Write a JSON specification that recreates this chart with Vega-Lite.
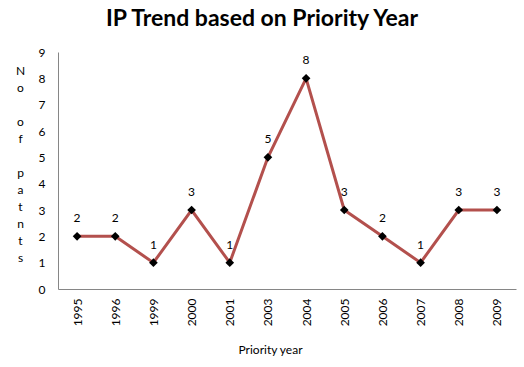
{
  "$schema": "https://vega.github.io/schema/vega-lite/v6.json",
  "width": 458,
  "height": 237,
  "autosize": "none",
  "padding": {"left": 58, "top": 52, "right": 8, "bottom": 78},
  "background": "white",
  "config": {
    "font": "Lato",
    "view": {"stroke": null}
  },
  "title": {
    "text": "IP Trend based on Priority Year",
    "font": "Lato",
    "fontSize": 23,
    "fontWeight": "bold",
    "color": "#000000",
    "anchor": "middle",
    "dx": -25,
    "offset": 15
  },
  "data": {
    "values": [
      {"year": "1995", "count": 2},
      {"year": "1996", "count": 2},
      {"year": "1999", "count": 1},
      {"year": "2000", "count": 3},
      {"year": "2001", "count": 1},
      {"year": "2003", "count": 5},
      {"year": "2004", "count": 8},
      {"year": "2005", "count": 3},
      {"year": "2006", "count": 2},
      {"year": "2007", "count": 1},
      {"year": "2008", "count": 3},
      {"year": "2009", "count": 3}
    ]
  },
  "encoding": {
    "x": {
      "field": "year",
      "type": "ordinal",
      "sort": null,
      "scale": {"type": "point", "padding": 0.5},
      "axis": {
        "title": "Priority year",
        "titleFont": "Lato",
        "titleFontSize": 12,
        "titleFontWeight": "normal",
        "titleColor": "#000000",
        "titlePadding": 19,
        "titleX": 212,
        "labelAngle": -90,
        "labelFont": "Lato",
        "labelFontSize": 12,
        "labelColor": "#000000",
        "labelPadding": 9,
        "ticks": false,
        "domainColor": "#868686",
        "domainWidth": 1,
        "grid": false
      }
    },
    "y": {
      "field": "count",
      "type": "quantitative",
      "scale": {"domain": [0, 9], "nice": false},
      "axis": {
        "values": [0, 1, 2, 3, 4, 5, 6, 7, 8, 9],
        "title": ["N", "o", "\u2800", "o", "f", "\u2800", "p", "a", "t", "n", "t", "s"],
        "titleAngle": 0,
        "titleFont": "Lato",
        "titleFontSize": 12,
        "titleFontWeight": "normal",
        "titleColor": "#000000",
        "titleLineHeight": 17,
        "titleAlign": "center",
        "titleBaseline": "middle",
        "titleX": -38,
        "titleY": 18,
        "labelFont": "Lato",
        "labelFontSize": 12,
        "labelColor": "#000000",
        "labelPadding": 13,
        "ticks": false,
        "domainColor": "#868686",
        "domainWidth": 1,
        "grid": false
      }
    }
  },
  "layer": [
    {
      "mark": {"type": "line", "color": "#B3504D", "strokeWidth": 3}
    },
    {
      "mark": {"type": "point", "shape": "diamond", "filled": true, "color": "#000000", "size": 75, "opacity": 1}
    },
    {
      "mark": {"type": "text", "dy": -18, "font": "Lato", "fontSize": 12, "color": "#000000"},
      "encoding": {"text": {"field": "count", "type": "quantitative"}}
    }
  ]
}
